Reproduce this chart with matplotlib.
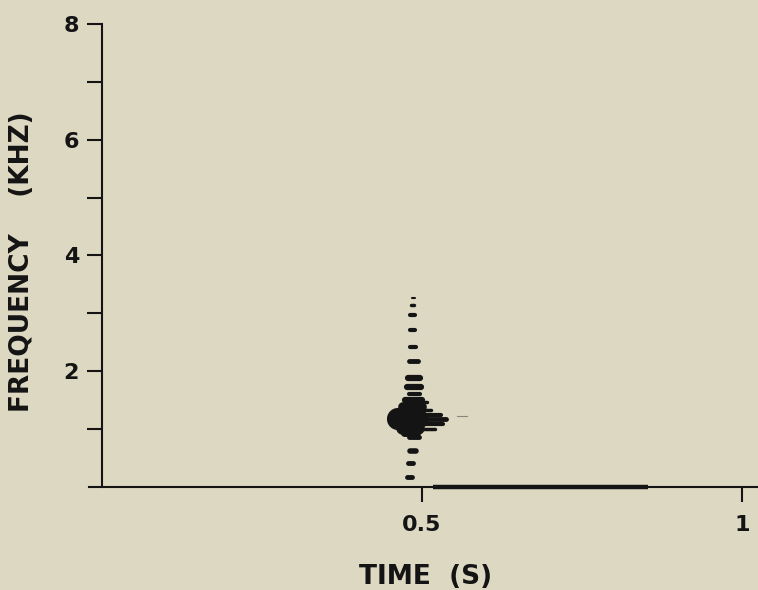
import matplotlib
matplotlib.use("Agg")
import matplotlib.pyplot as plt

# harmonic streaks of the spectrogram: start time (s), end time (s), frequency (kHz), stroke width
streak_t0 = [0.484, 0.483, 0.482, 0.482, 0.482, 0.480, 0.478, 0.477, 0.479,
             0.474, 0.470, 0.462, 0.468, 0.472,
             0.490, 0.492, 0.495, 0.495, 0.495, 0.492,
             0.480, 0.481, 0.478, 0.477]
streak_t1 = [0.489, 0.488, 0.489, 0.489, 0.490, 0.494, 0.497, 0.499, 0.497,
             0.500, 0.500, 0.492, 0.494, 0.492,
             0.508, 0.514, 0.530, 0.538, 0.533, 0.520,
             0.496, 0.491, 0.486, 0.485]
streak_f = [3.26, 3.14, 2.97, 2.71, 2.42, 2.18, 1.88, 1.72, 1.60,
            1.50, 1.38, 1.17, 1.02, 0.94,
            1.46, 1.33, 1.25, 1.17, 1.09, 1.00,
            0.86, 0.62, 0.41, 0.17]
streak_w = [1.5, 2.5, 3.0, 3.0, 3.0, 3.5, 4.5, 4.5, 3.0,
            4.5, 7.0, 16.0, 9.0, 5.0,
            2.5, 2.5, 3.0, 3.5, 3.0, 2.5,
            3.5, 4.0, 3.5, 3.5]

# low-frequency energy lying along the time axis
base_t = [0.517, 0.853]
base_f = [0.0, 0.0]

ink = "#141414"
bg = "#dcd8c2"

fig = plt.figure(figsize=(7.58, 5.90), dpi=100, facecolor=bg)
ax = fig.add_axes([0.1346, 0.1746, 0.8654, 0.7847], facecolor=bg)

for t0, t1, f, w in zip(streak_t0, streak_t1, streak_f, streak_w):
    ax.plot([t0, t1], [f, f], color=ink, lw=w, solid_capstyle="round")
ax.plot([0.555, 0.570], [1.22, 1.22], color="#8a877a", lw=0.8)

ax.plot(base_t, base_f, color=ink, lw=3.2, clip_on=False, solid_capstyle="butt")
ax.plot([-0.02, 1.03], [0, 0], color=ink, lw=1.5, clip_on=False)

ax.set_xlim(0, 1.025)
ax.set_ylim(0, 8)

for side in ["top", "right", "bottom"]:
    ax.spines[side].set_visible(False)
ax.spines["left"].set_linewidth(1.5)
ax.spines["left"].set_color(ink)

ax.set_yticks(range(1, 9))
ax.set_yticklabels(["", "2", "", "4", "", "6", "", "8"])
ax.set_xticks([0.5, 1.0])
ax.set_xticklabels(["0.5", "1"])
ax.tick_params(axis="both", direction="out", length=10.5, width=1.5,
               color=ink, labelcolor=ink, labelsize=16)
for lab in ax.get_xticklabels() + ax.get_yticklabels():
    lab.set_fontweight("bold")
ax.tick_params(axis="y", pad=6)
ax.tick_params(axis="x", pad=10)

fig.text(426 / 758, 1 - 577 / 590, "TIME  (S)", fontsize=19, fontweight="bold",
         color=ink, ha="center", va="center")
fig.text(22 / 758, 1 - 262 / 590, "FREQUENCY    (KHZ)", fontsize=19, fontweight="bold",
         color=ink, ha="center", va="center", rotation=90)

fig.savefig("out.png", dpi=100, facecolor=bg)
